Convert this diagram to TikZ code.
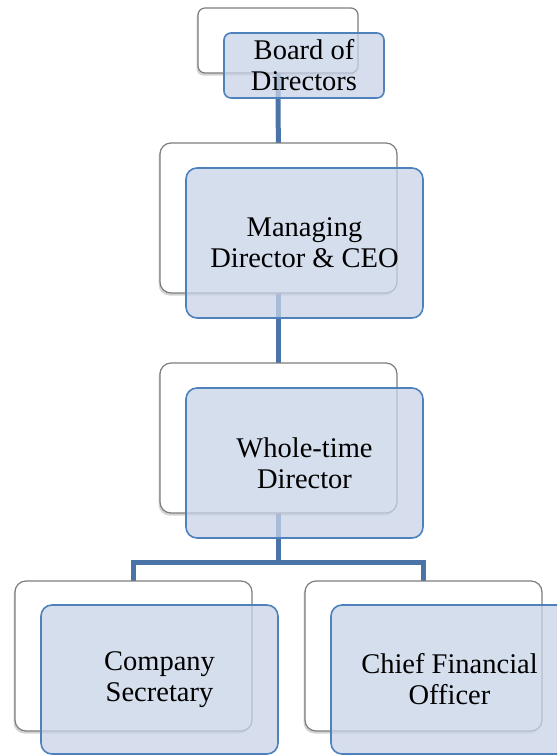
\documentclass[tikz,border=0pt]{standalone}
\usepackage{fontspec}
\setmainfont{Liberation Serif}
\usetikzlibrary{shadows,backgrounds}
\definecolor{linkblue}{RGB}{74,116,168}
\definecolor{boxblue}{RGB}{79,129,189}
\definecolor{boxfill}{RGB}{200,211,232}
\definecolor{shgray}{RGB}{125,125,125}
\tikzset{
  back/.style={draw=shgray, line width=1.2pt, fill=white, rounded corners=11pt, inner sep=0pt,
    drop shadow={shadow xshift=-1.5pt, shadow yshift=-2.5pt, opacity=0.35}},
  front/.style={draw=boxblue, line width=1.6pt, fill=boxfill, fill opacity=0.75, text opacity=1,
    rounded corners=11pt, inner sep=0pt, align=center, font=\fontsize{28.5}{31}\selectfont},
  link/.style={draw=linkblue, line width=5pt}
}
\begin{document}
\begin{tikzpicture}[x=1pt,y=-1pt]
\useasboundingbox (0,0) rectangle (557,755);
\clip (0,0) rectangle (557,755);
% shadow boxes
\node[back, minimum width=160pt, minimum height=65pt, rounded corners=7pt] (bdw) at (278,40.5) {};
\node[back, minimum width=237pt, minimum height=150pt] (mdw) at (278.5,218) {};
\node[back, minimum width=237pt, minimum height=150pt] (wtw) at (278.5,438) {};
\node[back, minimum width=237pt, minimum height=150pt] (csw) at (133.5,656) {};
\node[back, minimum width=237pt, minimum height=150pt] (cfw) at (423.5,656) {};
% connectors (behind boxes)
\begin{scope}[on background layer]
\coordinate (split) at (278.5,562);
\draw[link] (bdw.center) -- (mdw.center);
\draw[link] (mdw.center) -- (wtw.center);
\draw[link] (wtw.center) -- (split);
\draw[link, line join=miter] (csw.center) -- (csw.center |- split) -- (cfw.center |- split) -- (cfw.center);
\end{scope}
% front boxes
\node[front, minimum width=160pt, minimum height=65pt, rounded corners=7pt] (bd) at (304,65.5) {Board of\\Directors};
\node[front, minimum width=237pt, minimum height=150pt] (md) at (304.5,243) {Managing\\Director \& CEO};
\node[front, minimum width=237pt, minimum height=150pt] (wt) at (304.5,463) {Whole-time\\Director};
\node[front, minimum width=237pt, minimum height=149pt] (cs) at (159.5,679.5) {Company\\Secretary};
\node[front, minimum width=237pt, minimum height=149pt] (cf) at (449.5,679.5) {Chief Financial\\Officer};
\end{tikzpicture}
\end{document}
